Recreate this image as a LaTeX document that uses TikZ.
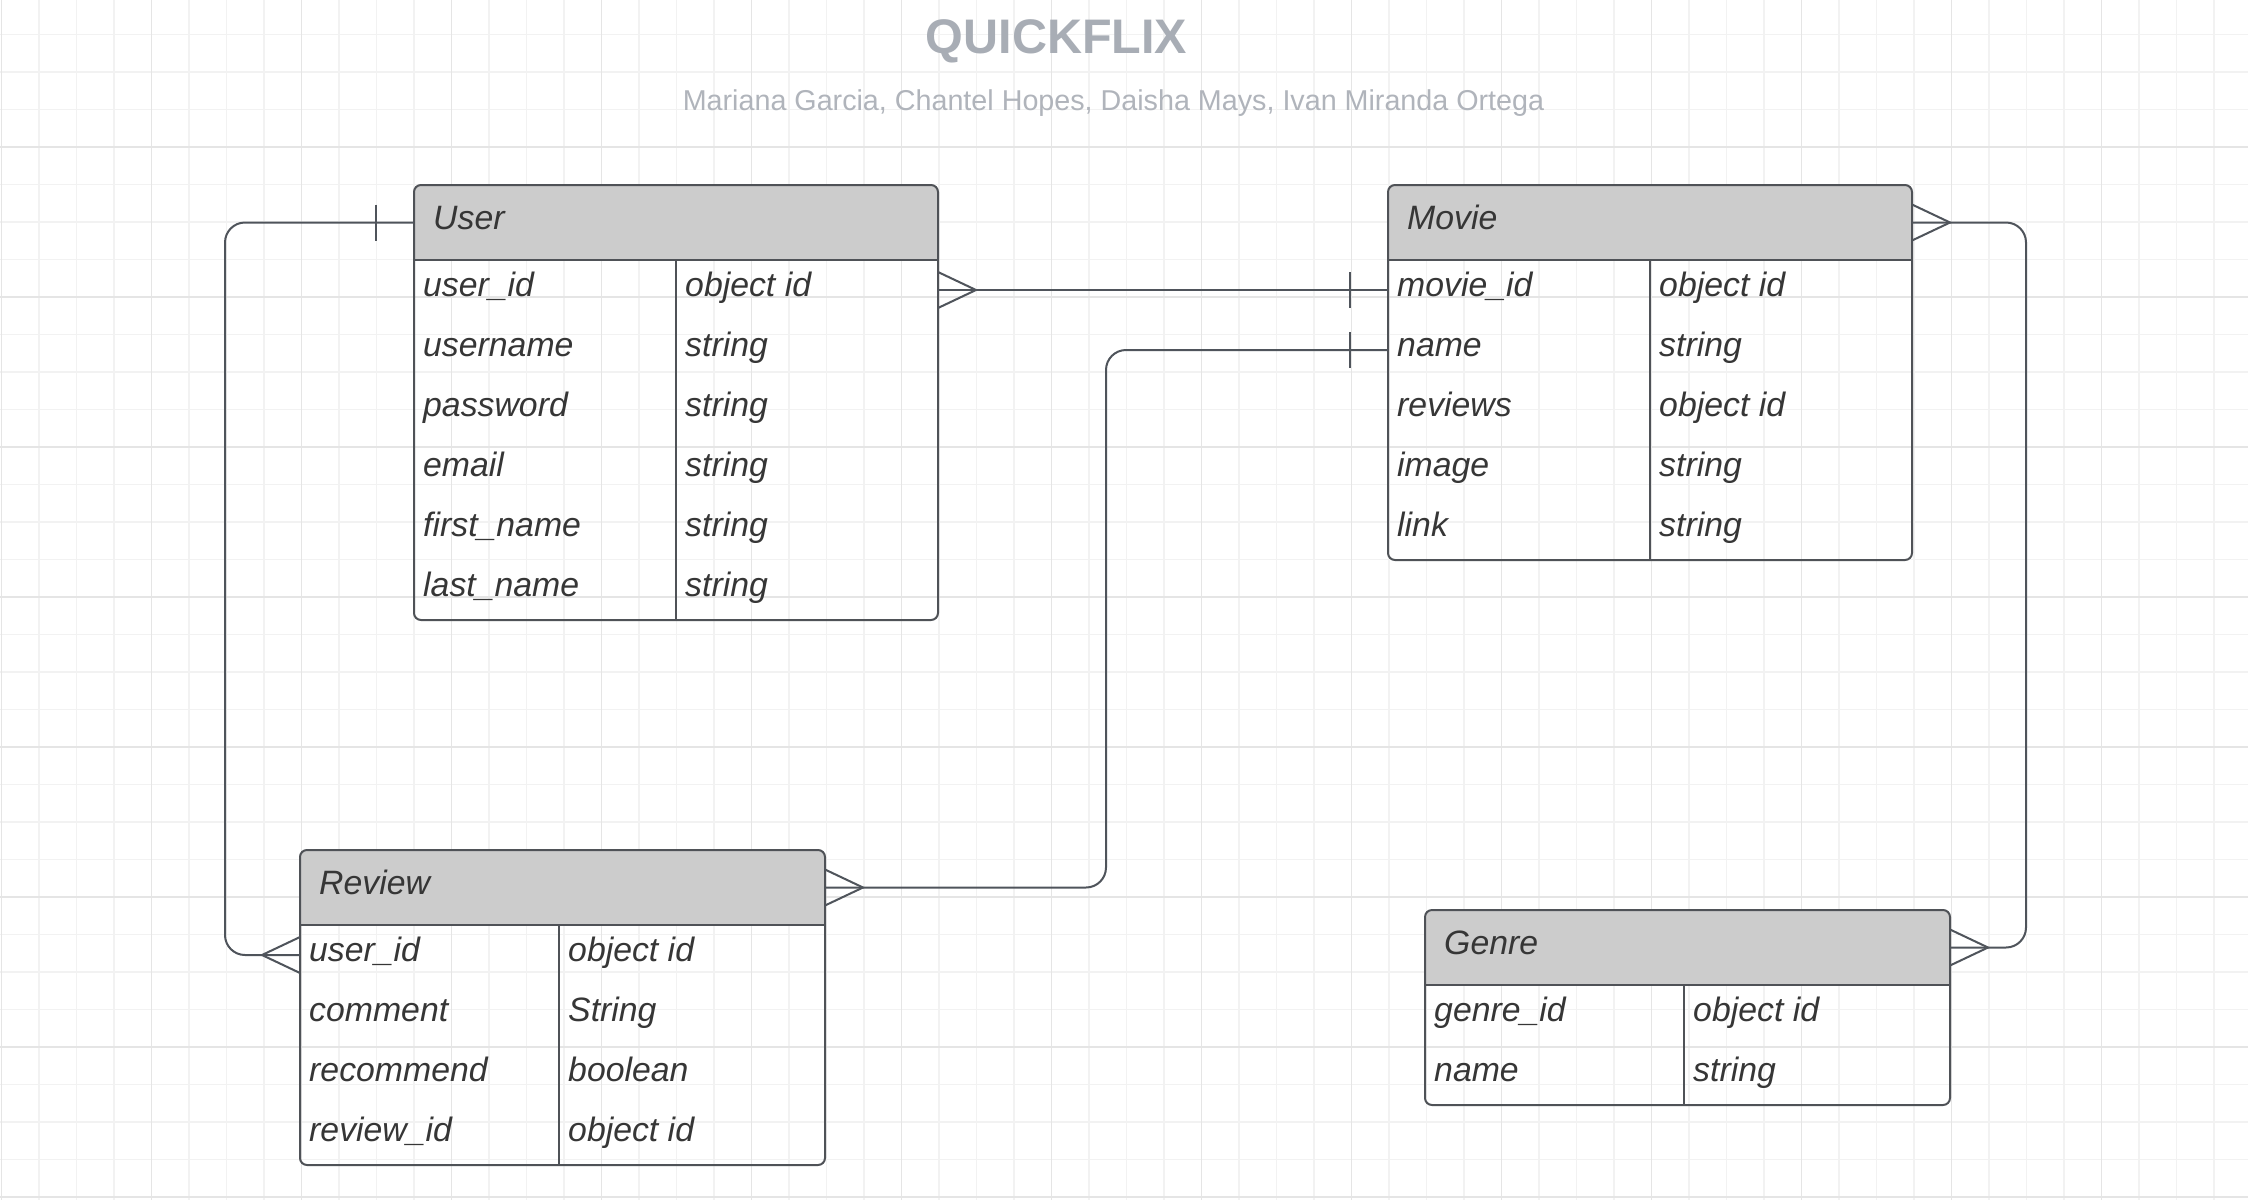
\documentclass[tikz,border=0pt]{standalone}
\usepackage{fontspec}
\setmainfont{Liberation Sans}
\usetikzlibrary{calc}
\definecolor{gridminor}{HTML}{F2F2F2}
\definecolor{gridmajor}{HTML}{E5E5E5}
\definecolor{hdrfill}{HTML}{CCCCCC}
\definecolor{boxline}{HTML}{4F5257}
\definecolor{connline}{HTML}{4F545B}
\definecolor{txt}{HTML}{363636}
\definecolor{titlegray}{HTML}{A8ADB5}
\definecolor{subgray}{HTML}{B0B4BB}
\tikzset{
  entbox/.style={rectangle, draw=boxline, line width=2pt, rounded corners=7pt, inner sep=0pt, outer sep=0pt},
  entline/.style={draw=boxline, line width=2pt},
  celltext/.style={anchor=base west, inner sep=0pt, text=txt, font=\fontsize{33.8}{40}\selectfont\itshape},
  conn/.style={draw=connline, line width=2pt},
  route/.style={conn, rounded corners=20pt},
  gminor/.style={draw=gridminor, line width=1.2pt},
  gmajor/.style={draw=gridmajor, line width=1.5pt}
}
% #1 name #2 x #3 y #4 w #5 divider offset #6 nrows #7 title #8 rows
\newcommand{\erentity}[8]{%
  \pgfmathsetmacro\entH{75+60*#6}
  \begin{scope}
    \clip (#2,#3) rectangle ++(#4,75);
    \fill[hdrfill, rounded corners=7pt] (#2,#3) rectangle ++(#4,\entH);
  \end{scope}
  \node[entbox, minimum width=#4, minimum height=\entH, anchor=north west] (#1) at (#2,#3) {};
  \draw[entline] (#2,#3+75) -- ++(#4,0);
  \draw[entline] (#2+#5,#3+75) -- (#2+#5,#3+\entH);
  \node[celltext] (#1-title) at (#2+19,#3+44) {#7};
  \coordinate (#1-h-w) at (#2,#3+37.5);
  \coordinate (#1-h-e) at (#2+#4,#3+37.5);
  \foreach \fa/\fb [count=\r] in {#8} {
    \coordinate (#1-r\r-w) at (#2,#3+45+60*\r);
    \coordinate (#1-r\r-e) at (#2+#4,#3+45+60*\r);
    \node[celltext] (#1-f\r) at (#2+9,#3+51.5+60*\r) {\fa};
    \node[celltext] (#1-t\r) at (#2+#5+9,#3+51.5+60*\r) {\fb};
  }
}
\newcommand{\manyR}[1]{\draw[conn] ($(#1)+(0,-18)$) -- ($(#1)+(38,0)$) -- ($(#1)+(0,18)$);}
\newcommand{\manyL}[1]{\draw[conn] ($(#1)+(0,-18)$) -- ($(#1)+(-38,0)$) -- ($(#1)+(0,18)$);}
\newcommand{\oneL}[1]{\draw[conn] ($(#1)+(-38,-18)$) -- ($(#1)+(-38,18)$);}
\begin{document}
\begin{tikzpicture}[x=1pt,y=-1pt]
\useasboundingbox (0,0) rectangle (2248,1200);
\fill[white] (0,0) rectangle (2248,1200);
% grid
\foreach \i in {0,...,59} \draw[gminor] ({1.5+37.5*\i},0) -- ({1.5+37.5*\i},1200);
\foreach \i in {1,...,32} \draw[gminor] (0,{-3+37.5*\i}) -- (2248,{-3+37.5*\i});
\foreach \i in {0,...,14} \draw[gmajor] ({1.5+150*\i},0) -- ({1.5+150*\i},1200);
\foreach \i in {1,...,8} \draw[gmajor] (0,{-3+150*\i}) -- (2248,{-3+150*\i});
% title
\node[anchor=base, inner sep=0pt, text=titlegray, font=\fontsize{48.5}{58}\selectfont\bfseries] (title) at (1056.5,53.3) {QUICKFLIX};
\node[anchor=base, inner sep=0pt, text=subgray, font=\fontsize{28.7}{34}\selectfont] (authors) at (1113.5,110) {Mariana Garcia, Chantel Hopes, Daisha Mays, Ivan Miranda Ortega};
% entities
\erentity{user}{414}{185}{524}{262}{6}{User}{user\_id/object id,username/string,password/string,email/string,first\_name/string,last\_name/string}
\erentity{movie}{1388}{185}{524}{262}{5}{Movie}{movie\_id/object id,name/string,reviews/object id,image/string,link/string}
\erentity{review}{300}{850}{525}{259}{4}{Review}{user\_id/object id,comment/String,recommend/boolean,review\_id/object id}
\erentity{genre}{1425}{910}{525}{259}{2}{Genre}{genre\_id/object id,name/string}
% routing points
\coordinate (c2) at (1106,600);
\coordinate (c3) at (225,600);
\coordinate (c4) at (2026,600);
% connectors
\draw[conn] (user-r1-e) -- (movie-r1-w);
\draw[route] (movie-r2-w) -| (c2) |- (review-h-e);
\draw[route] (user-h-w) -| (c3) |- (review-r1-w);
\draw[route] (movie-h-e) -| (c4) |- (genre-h-e);
% ends
\manyR{user-r1-e}
\oneL{movie-r1-w}
\oneL{movie-r2-w}
\manyR{review-h-e}
\oneL{user-h-w}
\manyL{review-r1-w}
\manyR{movie-h-e}
\manyR{genre-h-e}
\end{tikzpicture}
\end{document}
